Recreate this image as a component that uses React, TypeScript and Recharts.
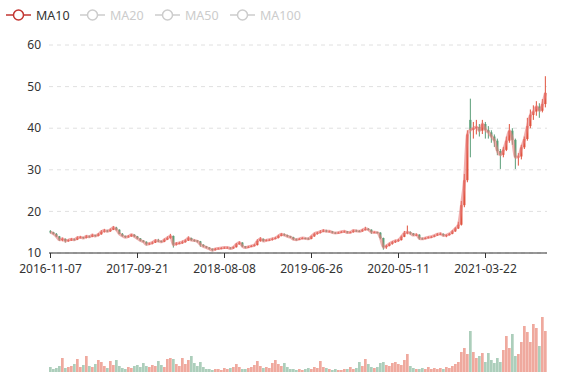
import React from 'react';
import { ComposedChart, BarChart, Bar, Line, Cell, XAxis, YAxis, CartesianGrid } from 'recharts';

// values, one entry per ~7 trading days
const opens = [
  15.2, 15.0, 14.6, 14.0, 13.1, 13.4, 12.9, 13.0, 13.3, 13.2, 13.7, 13.8, 13.6, 14.0, 13.9, 14.3, 14.1, 14.5, 15.1, 15.4,
  15.2, 15.6, 16.1, 15.6, 14.6, 14.1, 13.8, 14.0, 14.4, 14.0, 13.5, 13.0, 12.7, 12.1, 12.3, 12.5, 13.0, 12.9, 12.7, 13.2,
  13.6, 14.1, 12.0, 12.3, 12.4, 12.6, 13.0, 13.6, 13.1, 13.0, 12.8, 12.0, 11.6, 11.3, 11.0, 10.7, 11.0, 11.1, 11.2, 11.3,
  11.3, 11.1, 11.4, 12.1, 12.5, 11.6, 11.3, 11.5, 11.7, 11.9, 12.9, 13.4, 12.9, 13.1, 13.2, 13.4, 13.6, 14.1, 14.5, 14.3,
  14.0, 13.8, 13.3, 13.2, 13.4, 13.6, 13.5, 13.4, 14.0, 14.6, 14.9, 15.1, 15.4, 15.2, 15.2, 14.9, 14.8, 14.9, 15.1, 15.2,
  14.9, 15.0, 15.4, 15.3, 15.2, 15.5, 15.8, 15.6, 15.0, 15.0, 14.9, 13.6, 11.4, 11.7, 12.2, 12.6, 12.9, 13.1, 13.9, 14.8,
  15.0, 14.7, 14.3, 14.4, 13.5, 13.4, 13.6, 13.8, 13.9, 14.2, 14.5, 14.6, 14.2, 14.3, 14.6, 15.2, 15.9, 16.8, 21.5, 27.5,
  42.0, 39.6, 40.0, 40.3, 39.4, 41.0, 39.6, 39.0, 38.0, 37.0, 34.5, 33.6, 34.8, 37.0, 39.4, 37.2, 33.0, 33.2, 35.4, 37.4,
  40.5, 43.2, 44.0, 45.2, 44.2, 45.8,
];
const closes = [
  15.0, 14.6, 14.0, 13.2, 13.4, 12.9, 13.1, 13.3, 13.2, 13.7, 13.8, 13.6, 14.0, 13.9, 14.3, 14.1, 14.5, 15.1, 15.4, 15.2,
  15.6, 16.1, 15.6, 14.6, 14.1, 13.8, 14.0, 14.4, 14.0, 13.5, 13.0, 12.7, 12.1, 12.3, 12.5, 13.0, 12.9, 12.7, 13.2, 13.6,
  14.1, 12.0, 12.3, 12.4, 12.6, 13.0, 13.6, 13.1, 13.0, 12.8, 12.0, 11.6, 11.3, 11.0, 10.7, 11.0, 11.1, 11.2, 11.3, 11.3,
  11.1, 11.4, 12.1, 12.5, 11.6, 11.3, 11.5, 11.7, 11.9, 12.9, 13.4, 12.9, 13.1, 13.2, 13.4, 13.6, 14.1, 14.5, 14.3, 14.0,
  13.8, 13.3, 13.2, 13.4, 13.6, 13.5, 13.4, 14.0, 14.6, 14.9, 15.1, 15.4, 15.2, 15.2, 14.9, 14.8, 14.9, 15.1, 15.2, 14.9,
  15.0, 15.4, 15.3, 15.2, 15.5, 15.8, 15.6, 15.0, 15.0, 14.9, 13.6, 11.4, 11.7, 12.2, 12.6, 12.9, 13.1, 13.9, 14.8, 15.0,
  14.7, 14.3, 14.4, 13.5, 13.4, 13.6, 13.8, 13.9, 14.2, 14.5, 14.6, 14.2, 14.3, 14.6, 15.2, 15.9, 16.8, 21.5, 27.5, 38.5,
  39.6, 40.0, 40.3, 39.4, 41.0, 39.6, 39.0, 38.0, 37.0, 34.5, 33.6, 34.8, 37.0, 39.4, 37.2, 33.0, 33.2, 35.4, 37.4, 40.5,
  43.2, 44.0, 45.2, 44.2, 45.8, 48.5,
];
const lows = [
  14.7, 14.4, 13.8, 12.9, 12.8, 12.5, 12.7, 12.9, 13.0, 13.1, 13.5, 13.4, 13.5, 13.7, 13.8, 13.9, 14.0, 14.4, 14.9, 15.0,
  15.1, 15.5, 15.4, 14.5, 13.9, 13.6, 13.7, 13.9, 13.8, 13.3, 12.8, 12.5, 11.8, 11.9, 12.1, 12.4, 12.6, 12.5, 12.6, 13.1,
  13.4, 11.3, 11.8, 12.1, 12.2, 12.5, 12.9, 12.9, 12.7, 12.5, 11.5, 11.4, 11.1, 10.8, 10.4, 10.6, 10.9, 10.9, 11.0, 11.1,
  10.9, 11.0, 11.3, 12.0, 11.4, 11.1, 11.2, 11.4, 11.6, 11.8, 12.7, 12.7, 12.8, 12.9, 13.0, 13.3, 13.5, 14.0, 14.1, 13.8,
  13.6, 13.1, 13.0, 13.1, 13.3, 13.3, 13.2, 13.3, 13.9, 14.4, 14.7, 15.0, 15.0, 15.0, 14.7, 14.6, 14.7, 14.8, 14.9, 14.7,
  14.8, 14.9, 15.1, 15.0, 15.1, 15.4, 15.4, 14.6, 14.8, 14.7, 13.3, 10.8, 11.0, 11.6, 12.0, 12.4, 12.7, 13.0, 13.8, 14.5,
  14.4, 14.1, 14.1, 13.2, 13.2, 13.3, 13.5, 13.6, 13.8, 14.1, 14.3, 14.0, 13.8, 14.2, 14.5, 15.1, 15.8, 16.6, 21.0, 27.0,
  33.0, 37.5, 38.5, 38.0, 38.6, 37.5, 37.5, 36.5, 35.5, 33.5, 30.2, 33.0, 34.5, 36.5, 36.0, 30.2, 31.0, 32.5, 35.0, 37.0,
  40.0, 42.0, 43.0, 42.5, 43.8, 45.0,
];
const highs = [
  15.5, 15.1, 14.8, 14.1, 13.7, 13.5, 13.3, 13.6, 13.5, 14.0, 14.1, 13.9, 14.3, 14.2, 14.6, 14.4, 14.8, 15.5, 15.8, 15.6,
  15.9, 16.5, 16.3, 15.7, 14.8, 14.2, 14.3, 14.6, 14.5, 14.1, 13.6, 13.1, 12.8, 12.5, 12.8, 13.3, 13.4, 13.0, 13.5, 14.0,
  14.6, 14.2, 12.6, 12.7, 13.0, 13.3, 14.0, 13.7, 13.3, 13.1, 12.9, 12.1, 11.7, 11.4, 11.1, 11.2, 11.3, 11.4, 11.5, 11.5,
  11.4, 11.6, 12.4, 12.8, 12.6, 11.7, 11.7, 11.9, 12.2, 13.3, 13.8, 13.5, 13.3, 13.4, 13.7, 13.9, 14.4, 14.8, 14.7, 14.4,
  14.1, 13.9, 13.5, 13.6, 13.8, 13.7, 13.7, 14.2, 14.9, 15.1, 15.5, 15.7, 15.6, 15.4, 15.3, 15.0, 15.1, 15.3, 15.4, 15.3,
  15.2, 15.6, 15.6, 15.5, 15.8, 16.3, 16.0, 15.7, 15.2, 15.1, 15.0, 13.7, 12.0, 12.5, 12.9, 13.2, 13.4, 14.2, 15.3, 16.6,
  15.2, 14.8, 14.7, 14.5, 13.7, 13.8, 14.0, 14.1, 14.4, 14.8, 14.9, 14.7, 14.5, 14.8, 15.5, 16.2, 17.5, 22.5, 29.0, 39.5,
  47.1, 41.5, 42.0, 41.0, 42.0, 41.5, 40.5, 39.5, 38.5, 37.5, 35.0, 35.5, 38.0, 41.0, 40.0, 37.5, 34.0, 36.0, 38.0, 42.5,
  44.5, 45.5, 46.5, 46.0, 47.0, 52.5,
];
const volumes = [
  5, 3, 4, 6, 14, 4, 5, 6, 8, 13, 5, 7, 16, 6, 5, 8, 12, 10, 6, 4,
  11, 7, 12, 6, 4, 3, 5, 4, 6, 7, 5, 9, 6, 5, 7, 6, 11, 7, 5, 13,
  14, 13, 8, 6, 14, 8, 12, 16, 9, 6, 10, 5, 3, 3, 2, 3, 3, 2, 4, 3,
  4, 5, 8, 5, 3, 3, 4, 5, 7, 11, 6, 4, 5, 4, 9, 12, 8, 6, 9, 5,
  3, 3, 2, 3, 2, 3, 4, 3, 5, 4, 11, 5, 4, 3, 2, 3, 2, 2, 3, 3,
  5, 3, 4, 10, 6, 13, 8, 5, 4, 5, 9, 10, 7, 6, 9, 10, 8, 7, 12, 18,
  6, 4, 3, 3, 4, 3, 5, 3, 4, 3, 4, 3, 5, 4, 6, 8, 10, 20, 24, 18,
  41, 20, 14, 16, 19, 10, 19, 12, 9, 14, 10, 22, 36, 24, 38, 16, 18, 30, 46, 40,
  30, 48, 44, 26, 55, 41,
];

const tickIndex = [0, 29, 58, 87, 116, 145];
const tickDates = ['2016-11-07', '2017-09-21', '2018-08-08', '2019-06-26', '2020-05-11', '2021-03-22'];
const priceTicks = [10, 20, 30, 40, 50, 60];
const legendNames = ['MA10', 'MA20', 'MA50', 'MA100'];
const legendActive = [true, false, false, false];

const UP = '#e0533e';
const DOWN = '#5a9e78';
const FONT = '"Noto Sans", sans-serif';

const rows = closes.map((c, i) => ({
  i,
  open: opens[i],
  close: c,
  low: lows[i],
  high: highs[i],
  range: [lows[i], highs[i]],
  volume: volumes[i],
}));

function Candle(props: any) {
  const { x, y, width, height, payload } = props;
  if (x == null || !payload) return null;
  const { open, close, low, high } = payload;
  const color = close >= open ? UP : DOWN;
  const top = Math.min(y, y + height);
  const h = Math.abs(height);
  const span = high - low || 1;
  const cx = x + width / 2;
  const bTop = top + ((high - Math.max(open, close)) / span) * h;
  const bBot = top + ((high - Math.min(open, close)) / span) * h;
  return (
    <g>
      <line x1={cx} x2={cx} y1={top} y2={top + h} stroke={color} strokeWidth={1} />
      <rect x={cx - 1.1} y={bTop} width={2.2} height={Math.max(bBot - bTop, 1)} fill={color} />
    </g>
  );
}

const legendLeft = [6, 80, 155, 230];

export default function App() {
  return (
    <div style={{ position: 'absolute', left: 0, top: 0, width: 577, height: 380, background: '#fff', fontFamily: FONT }}>
      {legendNames.map((name, k) => {
        const col = legendActive[k] ? '#c23531' : '#ccc';
        return (
          <div key={name} style={{ position: 'absolute', left: legendLeft[k], top: 7, height: 16, display: 'flex', alignItems: 'center', fontSize: 12.5, color: legendActive[k] ? '#333' : '#ccc' }}>
            <svg width={25} height={14} style={{ marginRight: 5 }}>
              <line x1={0} x2={25} y1={7} y2={7} stroke={col} strokeWidth={1.5} />
              <circle cx={12.5} cy={7} r={5} fill="#fff" stroke={col} strokeWidth={1.5} />
            </svg>
            <span>{name}</span>
          </div>
        );
      })}

      <div style={{ position: 'absolute', left: 0, top: 0 }}>
        <ComposedChart width={577} height={283} data={rows} margin={{ top: 45, right: 30, bottom: 0, left: 0 }} barCategoryGap={0}>
          <CartesianGrid horizontal vertical={false} stroke="#e0e0e0" strokeDasharray="4 4" />
          <XAxis
            dataKey="i"
            ticks={tickIndex}
            interval={0}
            tickFormatter={(v: number) => tickDates[tickIndex.indexOf(v)] ?? ''}
            height={30}
            tickSize={5}
            tickMargin={6}
            axisLine={{ stroke: '#333' }}
            tickLine={{ stroke: '#333' }}
            tick={{ fontSize: 12, fill: '#333', fontFamily: FONT }}
          />
          <YAxis
            domain={[10, 60]}
            ticks={priceTicks}
            width={49}
            axisLine={false}
            tickLine={false}
            tick={{ fontSize: 12, fill: '#333', fontFamily: FONT }}
          />
          <Bar dataKey="range" barSize={3} shape={<Candle />} isAnimationActive={false} />
          <Line
            type="monotone"
            dataKey="close"
            name="MA10"
            stroke="#e87a78"
            strokeOpacity={0.6}
            strokeWidth={3}
            dot={false}
            activeDot={false}
            isAnimationActive={false}
          />
        </ComposedChart>
      </div>

      <div style={{ position: 'absolute', left: 0, top: 300 }}>
        <BarChart width={577} height={80} data={rows} margin={{ top: 17, right: 30, bottom: 8, left: 49 }} barCategoryGap={0}>
          <XAxis dataKey="i" hide />
          <YAxis hide domain={[0, 'dataMax']} />
          <Bar dataKey="volume" barSize={3} fillOpacity={0.5} isAnimationActive={false}>
            {rows.map((r) => (
              <Cell key={r.i} fill={r.close >= r.open ? UP : DOWN} />
            ))}
          </Bar>
        </BarChart>
      </div>
    </div>
  );
}
